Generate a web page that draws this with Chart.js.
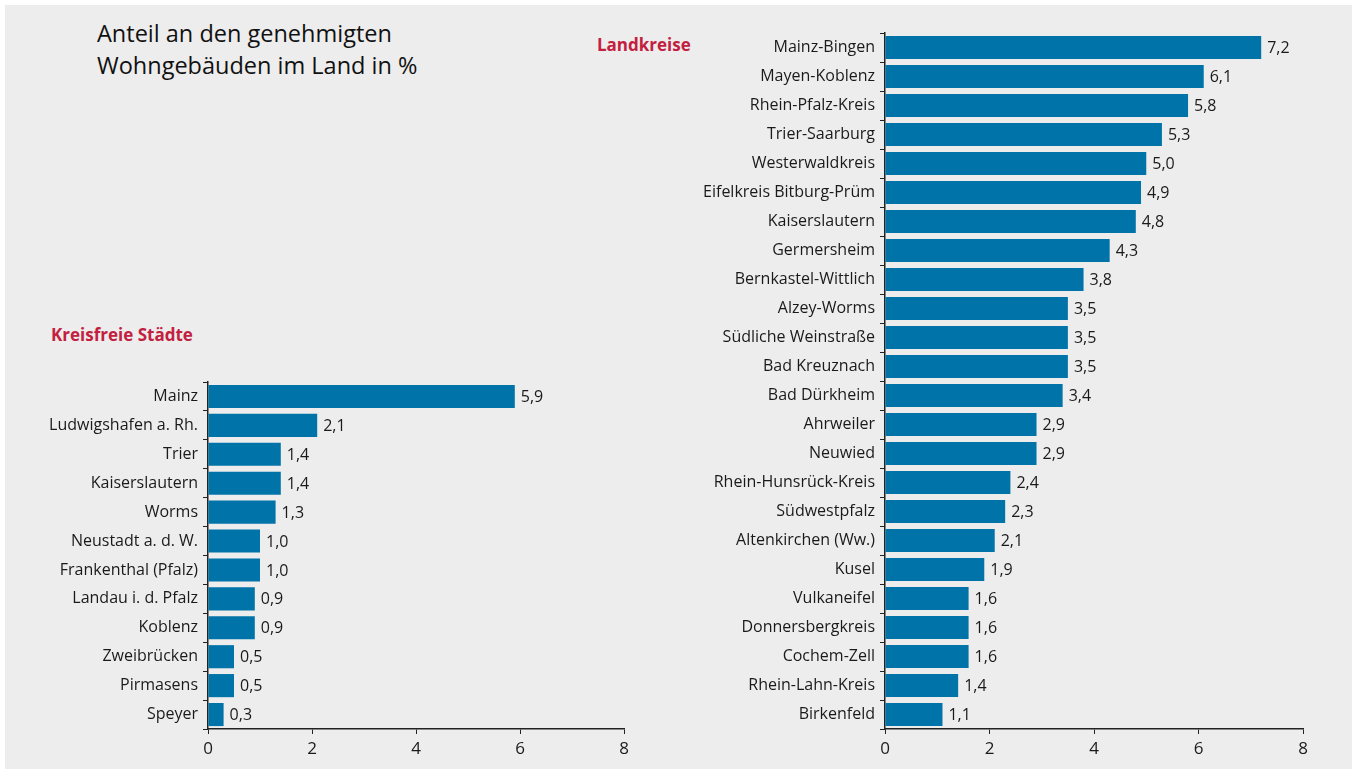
<!DOCTYPE html>
<html>
<head>
<meta charset="utf-8">
<script src="https://cdn.jsdelivr.net/npm/chart.js@4"></script>
<style>
  body { margin: 0; background: #fff; font-family: "Open Sans", sans-serif; }
  #panel { position: absolute; left: 5px; top: 5px; width: 1347px; height: 764px; background: #ededed; }
  .wrap { position: absolute; }
  #title { position: absolute; left: 97px; top: 17px; font-size: 23.5px; line-height: 32px; color: #111; }
  .head { position: absolute; font-size: 17px; font-weight: bold; color: #c3203f; }
</style>
</head>
<body>
<div id="panel"></div>
<div id="title">Anteil an den genehmigten<br>Wohngebäuden im Land in %</div>
<div class="head" style="left:51px; top:323px;">Kreisfreie Städte</div>
<div class="head" style="left:597px; top:33px;">Landkreise</div>
<div class="wrap" style="left:0; top:0; width:680px; height:769px;"><canvas id="left"></canvas></div>
<div class="wrap" style="left:680px; top:0; width:679px; height:769px;"><canvas id="right"></canvas></div>
<script>
/* ===== DATA ===== */
const staedte = ['Mainz', 'Ludwigshafen a. Rh.', 'Trier', 'Kaiserslautern', 'Worms', 'Neustadt a. d. W.',
  'Frankenthal (Pfalz)', 'Landau i. d. Pfalz', 'Koblenz', 'Zweibrücken', 'Pirmasens', 'Speyer'];
const staedteWerte = [5.9, 2.1, 1.4, 1.4, 1.3, 1.0, 1.0, 0.9, 0.9, 0.5, 0.5, 0.3];

const landkreise = ['Mainz-Bingen', 'Mayen-Koblenz', 'Rhein-Pfalz-Kreis', 'Trier-Saarburg', 'Westerwaldkreis',
  'Eifelkreis Bitburg-Prüm', 'Kaiserslautern', 'Germersheim', 'Bernkastel-Wittlich', 'Alzey-Worms',
  'Südliche Weinstraße', 'Bad Kreuznach', 'Bad Dürkheim', 'Ahrweiler', 'Neuwied', 'Rhein-Hunsrück-Kreis',
  'Südwestpfalz', 'Altenkirchen (Ww.)', 'Kusel', 'Vulkaneifel', 'Donnersbergkreis', 'Cochem-Zell',
  'Rhein-Lahn-Kreis', 'Birkenfeld'];
const landkreiseWerte = [7.2, 6.1, 5.8, 5.3, 5.0, 4.9, 4.8, 4.3, 3.8, 3.5, 3.5, 3.5, 3.4, 2.9, 2.9, 2.4,
  2.3, 2.1, 1.9, 1.6, 1.6, 1.6, 1.4, 1.1];

const xTicks = [0, 2, 4, 6, 8];

/* ===== STYLE ===== */
const BAR = '#0073a8';
const TXT = '#1a1a1a';
const FONT = '"Open Sans", sans-serif';

/* value labels with comma + x axis numbers */
const valueLabels = {
  id: 'valueLabels',
  afterDraw(chart) {
    const ctx = chart.ctx;
    const meta = chart.getDatasetMeta(0);
    ctx.save();
    ctx.font = '16px ' + FONT;
    ctx.fillStyle = TXT;
    ctx.textBaseline = 'middle';
    ctx.textAlign = 'left';
    meta.data.forEach((bar, i) => {
      const v = chart.data.datasets[0].data[i];
      ctx.fillText(v.toFixed(1).replace('.', ','), bar.x + 6, bar.y + 1);
    });
    // x axis numbers
    const xs = chart.scales.x;
    ctx.font = '17px ' + FONT;
    ctx.textAlign = 'center';
    xTicks.forEach(v => {
      ctx.fillText(String(v), xs.getPixelForValue(v), chart.chartArea.bottom + 20);
    });
    ctx.restore();
  }
};

function makeChart(id, labels, values, yWidth, padTop) {
  return new Chart(document.getElementById(id), {
    type: 'bar',
    data: {
      labels: labels,
      datasets: [{ data: values, backgroundColor: BAR, barPercentage: 0.8, categoryPercentage: 1 }]
    },
    options: {
      indexAxis: 'y',
      responsive: true,
      maintainAspectRatio: false,
      animation: false,
      layout: { padding: { top: padTop, right: 56, bottom: 5, left: 0 } },
      plugins: { legend: { display: false }, tooltip: { enabled: false } },
      scales: {
        x: {
          min: 0, max: 8,
          afterBuildTicks: s => { s.ticks = xTicks.map(v => ({ value: v })); },
          afterFit: s => { s.height = 35; },
          border: { color: '#222', width: 1.5 },
          grid: { drawOnChartArea: false, tickLength: 5, color: '#222' },
          ticks: { color: 'rgba(0,0,0,0)' }
        },
        y: {
          afterFit: s => { s.width = yWidth; },
          border: { color: '#222', width: 1.5 },
          grid: { offset: true, drawOnChartArea: false, tickLength: 5, color: '#222' },
          ticks: { color: TXT, font: { family: FONT, size: 16 }, padding: 5, autoSkip: false }
        }
      }
    },
    plugins: [valueLabels]
  });
}

makeChart('left', staedte, staedteWerte, 208, 382);
makeChart('right', landkreise, landkreiseWerte, 205, 33);
</script>
</body>
</html>
